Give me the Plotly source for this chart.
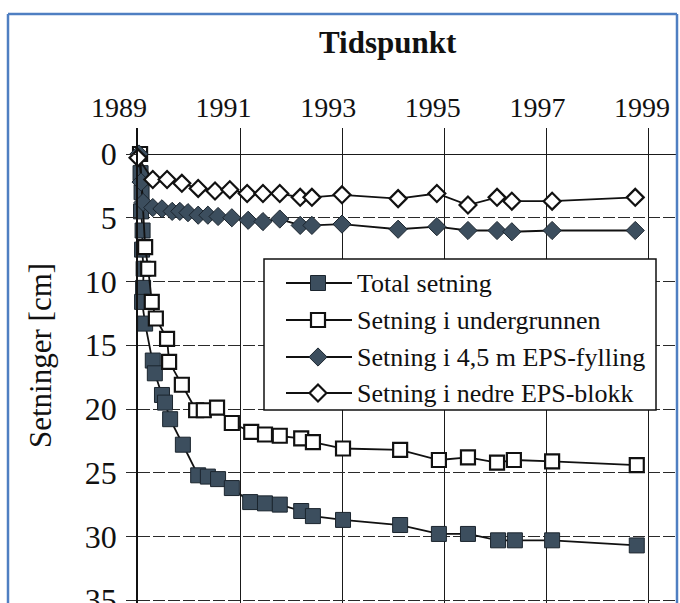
import plotly.graph_objects as go

# ---------------- data ----------------
x_tick_years = [1989, 1991, 1993, 1995, 1997, 1999]
y_tick_values = [0, 5, 10, 15, 20, 25, 30, 35]

series_names = ["Total setning", "Setning i undergrunnen",
                "Setning i 4,5 m EPS-fylling", "Setning i nedre EPS-blokk"]

total_years = [1989.04, 1989.05, 1989.07, 1989.06, 1989.09, 1989.08, 1989.11,
               1989.10, 1989.08, 1989.14, 1989.29, 1989.33, 1989.47, 1989.53,
               1989.63, 1989.88, 1990.18, 1990.37, 1990.57, 1990.84, 1991.20,
               1991.49, 1991.78, 1992.20, 1992.43, 1993.02, 1994.14, 1994.90,
               1995.47, 1996.06, 1996.39, 1997.12, 1998.78]
total_cm = [0.0, 1.5, 3.0, 4.5, 6.0, 7.5, 9.0,
            10.5, 11.6, 13.3, 16.2, 17.2, 18.9, 19.5,
            20.8, 22.8, 25.2, 25.3, 25.5, 26.2, 27.3,
            27.4, 27.5, 28.0, 28.4, 28.7, 29.1, 29.8,
            29.8, 30.3, 30.3, 30.3, 30.7]

under_years = [1989.04, 1989.14, 1989.20, 1989.27, 1989.35, 1989.57, 1989.61,
               1989.86, 1990.14, 1990.29, 1990.55, 1990.84, 1991.22, 1991.49,
               1991.78, 1992.20, 1992.43, 1993.02, 1994.14, 1994.90, 1995.47,
               1996.04, 1996.37, 1997.12, 1998.78]
under_cm = [0.0, 7.3, 9.0, 11.6, 12.9, 14.5, 16.3,
            18.1, 20.1, 20.1, 19.9, 21.1, 21.8, 22.0,
            22.1, 22.3, 22.6, 23.1, 23.2, 24.0, 23.8,
            24.2, 24.0, 24.1, 24.4]

eps_years = [1989.02, 1989.06, 1989.10, 1989.29, 1989.47, 1989.67, 1989.82,
             1989.98, 1990.18, 1990.37, 1990.57, 1990.84, 1991.16, 1991.45,
             1991.78, 1992.18, 1992.41, 1993.00, 1994.10, 1994.86, 1995.47,
             1996.04, 1996.33, 1997.12, 1998.75]
eps_cm = [0.0, 2.2, 3.8, 4.2, 4.3, 4.5, 4.5,
          4.6, 4.8, 4.8, 4.9, 5.0, 5.2, 5.3,
          5.1, 5.6, 5.6, 5.5, 5.9, 5.7, 6.0,
          6.0, 6.1, 6.0, 6.0]

nedre_years = [1989.00, 1989.29, 1989.57, 1989.86, 1990.18, 1990.51, 1990.80,
               1991.14, 1991.45, 1991.78, 1992.18, 1992.41, 1993.00, 1994.10,
               1994.86, 1995.47, 1996.04, 1996.33, 1997.12, 1998.75]
nedre_cm = [0.3, 2.0, 2.0, 2.3, 2.7, 2.9, 2.8,
            3.1, 3.1, 3.1, 3.4, 3.4, 3.2, 3.5,
            3.1, 4.0, 3.4, 3.7, 3.7, 3.4]

# ---------------- layout constants ----------------
W, H = 680, 603
ML, MR, MT, MB = 138, 4, 128, 0
PLOT_W = W - ML - MR
PLOT_H = H - MT - MB
PX_PER_YEAR = 51.0
PX_PER_CM = 12.75
ZERO_PY = 154          # pixel row of the 0 cm gridline
X_START = 1989.0

# the year labels of the scan sit on a slightly wider spacing than the grid
LABEL_FIRST_PX = 119
LABEL_PX_PER_YEAR = 52.3

x_range = [X_START, X_START + PLOT_W / PX_PER_YEAR]
x2_range = [X_START, X_START + PLOT_W / LABEL_PX_PER_YEAR]
y_top = -(ZERO_PY - MT) / PX_PER_CM
y_bottom = (H - MB - ZERO_PY) / PX_PER_CM


def px2x(px):
    return X_START + (px - ML) / PX_PER_YEAR


def py2y(py):
    return (py - ZERO_PY) / PX_PER_CM


def xp(px):
    return (px - ML) / PLOT_W


def yp(py):
    return (H - MB - py) / PLOT_H


DARK = "#3c4e5e"
FONT = "Liberation Serif"
LINE = dict(color="#111111", width=1.8)

styles = [
    dict(symbol="square", size=15, color=DARK, line=dict(color="#1b252e", width=1)),
    dict(symbol="square", size=14, color="white", line=dict(color="#111111", width=2.2)),
    dict(symbol="diamond", size=14, color=DARK, line=dict(color="#1b252e", width=1)),
    dict(symbol="diamond", size=13, color="white", line=dict(color="#111111", width=2.2)),
]
data = [(total_years, total_cm), (under_years, under_cm),
        (eps_years, eps_cm), (nedre_years, nedre_cm)]

fig = go.Figure()
for name, (xs, ys), mk in zip(series_names, data, styles):
    fig.add_trace(go.Scatter(x=xs, y=ys, name=name, mode="lines+markers",
                             line=LINE, marker=mk, cliponaxis=False,
                             showlegend=False))

# empty trace that carries the top label axis
fig.add_trace(go.Scatter(x=[], y=[], xaxis="x2", yaxis="y", showlegend=False,
                         hoverinfo="skip"))

# ---------------- hand-drawn legend (box, glyphs, labels) ----------------
LEG_L, LEG_R, LEG_T, LEG_B = 264, 656, 259, 410
LEG_ROWS = [283, 320, 357, 393]
GLYPH_L, GLYPH_C, GLYPH_R = 286, 318, 352
LEG_TEXT_X = 355

shapes = [dict(type="rect", xref="x", yref="y", layer="between",
               x0=px2x(LEG_L), x1=px2x(LEG_R), y0=py2y(LEG_T), y1=py2y(LEG_B),
               fillcolor="white", line=dict(color="#111111", width=1.5))]

annotations = []
for name, mk, row in zip(series_names, styles, LEG_ROWS):
    yy = py2y(row)
    fig.add_trace(go.Scatter(x=[px2x(GLYPH_L), px2x(GLYPH_R)], y=[yy, yy],
                             mode="lines", line=LINE, showlegend=False,
                             hoverinfo="skip", cliponaxis=False))
    fig.add_trace(go.Scatter(x=[px2x(GLYPH_C)], y=[yy], mode="markers",
                             marker=mk, showlegend=False, hoverinfo="skip",
                             cliponaxis=False))
    annotations.append(dict(x=px2x(LEG_TEXT_X), y=yy, xref="x", yref="y",
                            text=name, showarrow=False, xanchor="left",
                            yanchor="middle",
                            font=dict(family=FONT, size=26, color="#111111")))

# axis titles
annotations.append(dict(x=xp(388), y=yp(42), xref="paper", yref="paper",
                        text="<b>Tidspunkt</b>", showarrow=False,
                        xanchor="center", yanchor="middle",
                        font=dict(family=FONT, size=31, color="#111111")))
annotations.append(dict(x=xp(40), y=yp(356), xref="paper", yref="paper",
                        text="Setninger [cm]", showarrow=False, textangle=-90,
                        xanchor="center", yanchor="middle",
                        font=dict(family=FONT, size=31, color="#111111")))

# blue frame of the scanned picture
BLUE = dict(color="#4f7fc2", width=2.5)
shapes += [
    dict(type="line", xref="paper", yref="paper", layer="above",
         x0=xp(8), x1=xp(677), y0=yp(14), y1=yp(14), line=BLUE),
    dict(type="line", xref="paper", yref="paper", layer="above",
         x0=xp(8), x1=xp(8), y0=yp(14), y1=yp(H + 5), line=BLUE),
    dict(type="line", xref="paper", yref="paper", layer="above",
         x0=xp(677), x1=xp(677), y0=yp(14), y1=yp(H + 5), line=BLUE),
]

fig.update_layout(
    width=W, height=H,
    margin=dict(l=ML, r=MR, t=MT, b=MB, pad=0, autoexpand=False),
    paper_bgcolor="white", plot_bgcolor="white",
    showlegend=False,
    font=dict(family=FONT, color="#111111"),
    shapes=shapes, annotations=annotations,
    xaxis=dict(range=x_range, side="top", tickmode="array",
               tickvals=x_tick_years, showticklabels=False,
               showgrid=True, gridcolor="#1a1a1a", gridwidth=1.4,
               zeroline=False, showline=False, ticks="", automargin=False),
    xaxis2=dict(range=x2_range, side="top", overlaying="x", anchor="y",
                tickmode="array", tickvals=x_tick_years,
                ticktext=[str(v) for v in x_tick_years],
                showgrid=False, zeroline=False, showline=False, ticks="",
                automargin=False, ticklabelstandoff=4,
                ticklabelshift=LABEL_FIRST_PX - ML,
                ticklabeloverflow="allow",
                tickfont=dict(family=FONT, size=28, color="#111111")),
    yaxis=dict(range=[y_bottom, y_top], tickmode="array",
               tickvals=y_tick_values, ticktext=[str(v) for v in y_tick_values],
               showgrid=True, gridcolor="#2a2a2a", gridwidth=1.2,
               griddash="12px,3px",
               zeroline=True, zerolinecolor="#1a1a1a", zerolinewidth=1.3,
               showline=True, linecolor="#111111", linewidth=1.6,
               ticks="outside", ticklen=10, tickwidth=1.2, tickcolor="#2a2a2a",
               ticklabelstandoff=3, ticklabeloverflow="allow", automargin=False,
               tickfont=dict(family=FONT, size=32, color="#111111")),
)

fig.write_html("out.html",
               config={"displayModeBar": False},
               post_script="document.body.style.margin='0';"
                           "document.body.style.padding='0';")
